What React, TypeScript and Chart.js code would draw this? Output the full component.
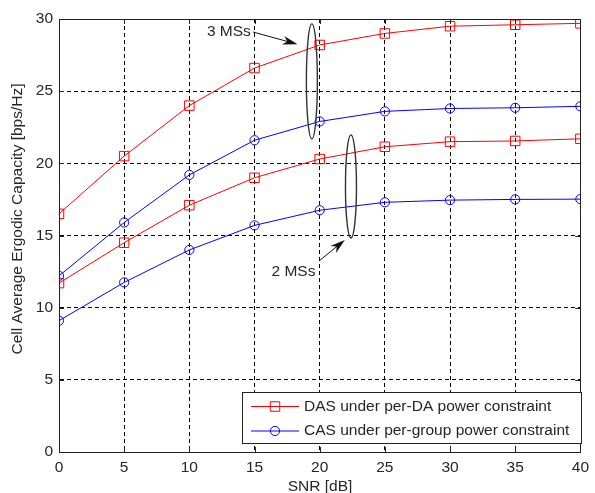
import React, { useEffect, useRef } from "react";
import { Chart, registerables } from "chart.js";

Chart.register(...registerables);

// ---- data ----
const snrDb = [0, 5, 10, 15, 20, 25, 30, 35, 40];
const das3MS = [16.5, 20.5, 24.0, 26.6, 28.2, 29.0, 29.5, 29.6, 29.7];
const cas3MS = [12.2, 15.9, 19.2, 21.6, 22.9, 23.6, 23.8, 23.85, 23.95];
const das2MS = [11.7, 14.5, 17.1, 19.0, 20.3, 21.15, 21.5, 21.55, 21.7];
const cas2MS = [9.1, 11.75, 14.0, 15.7, 16.75, 17.3, 17.45, 17.5, 17.52];
const legendLabels = [
  "DAS under per-DA power constraint",
  "CAS under per-group power constraint",
];
const xTitle = "SNR [dB]";
const yTitle = "Cell Average Ergodic Capacity [bps/Hz]";
const groupLabels = ["3 MSs", "2 MSs"];
// annotation anchors in data coordinates
const label3 = { x: 14.72, y: 29.1 };
const arrow3 = { x0: 14.88, y0: 29.1, x1: 18.3, y1: 28.25 };
const ellipse3 = { x: 19.4, yTop: 29.66, yBot: 21.7 };
const label2 = { x: 16.3, y: 12.47 };
const arrow2 = { x0: 19.96, y0: 13.24, x1: 21.93, y1: 14.69 };
const ellipse2 = { x: 22.4, yTop: 21.97, yBot: 14.83 };

const RED = "#ff0000";
const BLUE = "#0000ff";
const TEXT = "#262626";
const FONT = "'Liberation Sans', Arial, sans-serif";
const FS = 15.5;

function toPoints(ys: number[]) {
  return ys.map((y, i) => ({ x: snrDb[i], y }));
}

function drawArrow(ctx: CanvasRenderingContext2D, x0: number, y0: number, x1: number, y1: number) {
  const ang = Math.atan2(y1 - y0, x1 - x0);
  const hl = 15;
  const hw = 4.5;
  ctx.save();
  ctx.strokeStyle = "#111";
  ctx.fillStyle = "#111";
  ctx.lineWidth = 1;
  ctx.beginPath();
  ctx.moveTo(x0, y0);
  ctx.lineTo(x1 - hl * 0.6 * Math.cos(ang), y1 - hl * 0.6 * Math.sin(ang));
  ctx.stroke();
  ctx.beginPath();
  ctx.moveTo(x1, y1);
  const bx = x1 - hl * Math.cos(ang);
  const by = y1 - hl * Math.sin(ang);
  ctx.lineTo(bx + hw * Math.sin(ang), by - hw * Math.cos(ang));
  ctx.lineTo(x1 - hl * 0.7 * Math.cos(ang), y1 - hl * 0.7 * Math.sin(ang));
  ctx.lineTo(bx - hw * Math.sin(ang), by + hw * Math.cos(ang));
  ctx.closePath();
  ctx.fill();
  ctx.restore();
}

const overlayPlugin = {
  id: "overlay",
  afterDraw(chart: any) {
    const { ctx, chartArea: a, scales } = chart;
    const xs = scales.x;
    const ys = scales.y;
    const px = (v: number) => xs.getPixelForValue(v);
    const py = (v: number) => ys.getPixelForValue(v);
    ctx.save();
    // axes box
    ctx.strokeStyle = "#222";
    ctx.lineWidth = 1;
    ctx.strokeRect(Math.round(a.left) + 0.5, Math.round(a.top) + 0.5, Math.round(a.right - a.left), Math.round(a.bottom - a.top));
    // inward tick marks on all sides
    ctx.beginPath();
    const tl = 5;
    xs.ticks.forEach((t: any) => {
      const x = Math.round(px(t.value)) + 0.5;
      ctx.moveTo(x, a.bottom); ctx.lineTo(x, a.bottom - tl);
      ctx.moveTo(x, a.top); ctx.lineTo(x, a.top + tl);
    });
    ys.ticks.forEach((t: any) => {
      const y = Math.round(py(t.value)) + 0.5;
      ctx.moveTo(a.left, y); ctx.lineTo(a.left + tl, y);
      ctx.moveTo(a.right, y); ctx.lineTo(a.right - tl, y);
    });
    ctx.stroke();

    // axis titles
    ctx.fillStyle = TEXT;
    ctx.font = `${FS}px ${FONT}`;
    ctx.textAlign = "center";
    ctx.textBaseline = "middle";
    ctx.fillText(xTitle, 320, 487);
    ctx.save();
    ctx.translate(17.5, 219);
    ctx.rotate(-Math.PI / 2);
    ctx.fillText(yTitle, 0, 0);
    ctx.restore();

    // ellipses
    ctx.strokeStyle = "#333";
    ctx.lineWidth = 1.4;
    for (const e of [ellipse3, ellipse2]) {
      const cx = px(e.x);
      const t = py(e.yTop);
      const b = py(e.yBot);
      ctx.beginPath();
      ctx.ellipse(cx, (t + b) / 2, 5.5, (b - t) / 2, 0, 0, Math.PI * 2);
      ctx.stroke();
    }
    // arrows
    drawArrow(ctx, px(arrow3.x0), py(arrow3.y0), px(arrow3.x1), py(arrow3.y1));
    drawArrow(ctx, px(arrow2.x0), py(arrow2.y0), px(arrow2.x1), py(arrow2.y1));
    // group labels
    ctx.fillStyle = TEXT;
    ctx.font = `${FS}px ${FONT}`;
    ctx.textBaseline = "middle";
    ctx.textAlign = "right";
    ctx.fillText(groupLabels[0], px(label3.x), py(label3.y));
    ctx.textAlign = "left";
    ctx.fillText(groupLabels[1], px(label2.x), py(label2.y));

    // legend
    const lx = 242, ly = 392, lw = 339, lh = 51;
    ctx.fillStyle = "#ffffff";
    ctx.fillRect(lx, ly, lw, lh);
    ctx.strokeStyle = "#222";
    ctx.lineWidth = 1;
    ctx.strokeRect(lx + 0.5, ly + 0.5, lw, lh);
    const rows = [ly + 14.5, ly + 39];
    const colors = [RED, BLUE];
    rows.forEach((ry, i) => {
      ctx.strokeStyle = colors[i];
      ctx.lineWidth = 1;
      ctx.beginPath();
      ctx.moveTo(251, ry);
      ctx.lineTo(299, ry);
      ctx.stroke();
      ctx.beginPath();
      if (i === 0) ctx.rect(275 - 4.75, ry - 4.75, 9.5, 9.5);
      else ctx.arc(275, ry, 4.6, 0, Math.PI * 2);
      ctx.stroke();
      ctx.fillStyle = TEXT;
      ctx.font = `${FS}px ${FONT}`;
      ctx.textAlign = "left";
      ctx.textBaseline = "middle";
      ctx.fillText(legendLabels[i], 304, ry);
    });
    ctx.restore();
  },
};

export default function App() {
  const ref = useRef<HTMLCanvasElement | null>(null);
  useEffect(() => {
    if (!ref.current) return;
    const mk = (label: string, data: number[], color: string, style: string, r: number) => ({
      label,
      data: toPoints(data),
      borderColor: color,
      backgroundColor: "rgba(0,0,0,0)",
      pointBorderColor: color,
      pointBackgroundColor: "rgba(0,0,0,0)",
      pointStyle: style,
      pointRadius: r,
      pointBorderWidth: 1,
      borderWidth: 1,
      tension: 0,
    });
    const chart = new Chart(ref.current, {
      type: "line",
      data: {
        datasets: [
          mk(legendLabels[0], das3MS, RED, "rect", 6.7),
          mk(legendLabels[1], cas3MS, BLUE, "circle", 4.6),
          mk(legendLabels[0], das2MS, RED, "rect", 6.7),
          mk(legendLabels[1], cas2MS, BLUE, "circle", 4.6),
        ],
      },
      options: {
        responsive: false,
        animation: false,
        layout: { padding: { left: 0, right: 9, top: 19, bottom: 0 } },
        plugins: { legend: { display: false }, tooltip: { enabled: false } },
        scales: {
          x: {
            type: "linear",
            min: 0,
            max: 40,
            ticks: { stepSize: 5, color: TEXT, font: { family: FONT, size: FS }, padding: 6, maxRotation: 0 },
            grid: { color: "#000", drawTicks: false, lineWidth: 1 },
            border: { display: true, color: "#222", dash: [4, 3] } as any,
            title: { display: false },
            afterFit: (s: any) => { s.height = 41; },
          },
          y: {
            min: 0,
            max: 30,
            ticks: { stepSize: 5, color: TEXT, font: { family: FONT, size: FS }, padding: 6 },
            grid: { color: "#000", drawTicks: false, lineWidth: 1 },
            border: { display: true, color: "#222", dash: [4, 3] } as any,
            title: { display: false },
            afterFit: (s: any) => { s.width = 59; },
          },
        },
      } as any,
      plugins: [overlayPlugin],
    });
    return () => chart.destroy();
  }, []);
  return (
    <div style={{ position: "fixed", left: 0, top: 0, width: 595, height: 493, background: "#fff" }}>
      <canvas ref={ref} width={595} height={493} />
    </div>
  );
}
